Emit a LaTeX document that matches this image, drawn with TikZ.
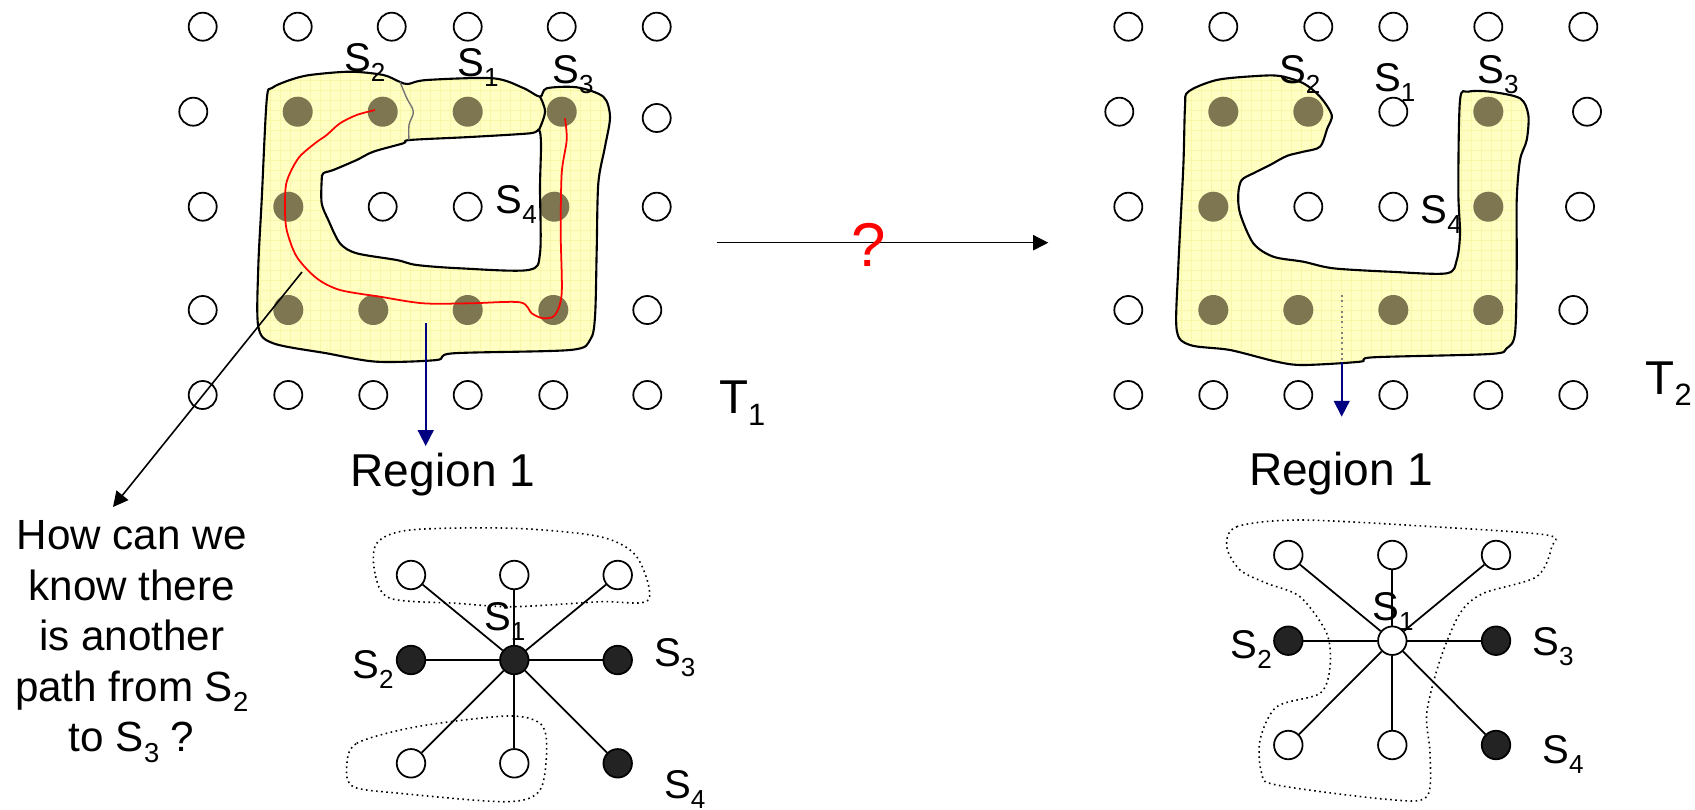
\documentclass[tikz,border=0pt]{standalone}
\usepackage{fontspec}
\setmainfont{Liberation Sans}
\usepackage{graphicx}
\usetikzlibrary{arrows.meta}
\definecolor{regfill}{RGB}{255,255,196}
\definecolor{reggrid}{RGB}{250,246,168}
\definecolor{dotc}{RGB}{125,118,80}
\definecolor{dotgrid}{RGB}{170,165,110}
\definecolor{starfill}{RGB}{35,35,35}
\definecolor{navyc}{RGB}{0,0,128}
\newcommand\sbs[1]{\raisebox{-0.25em}{\scalebox{0.65}{#1}}}
\newcommand\fS{\fontsize{11.4pt}{13pt}\selectfont}
\newcommand\fT{\fontsize{13.5pt}{16pt}\selectfont}
\newcommand\fR{\fontsize{13.1pt}{16pt}\selectfont}
\newcommand\fQ{\fontsize{12pt}{14.35pt}\selectfont}
\newcommand\fQm{\fontsize{17.6pt}{20pt}\selectfont}
\newcommand\LeftOuter{plot[smooth cycle, tension=0.5] coordinates {(266.7,100) (272,88) (290,80) (310,75) (350,71.7) (383.3,75) (400,82) (408,84) (426.7,80) (493.3,78.3) (523.3,88) (540,96.7) (546.7,88.3) (576.7,87.3) (603.3,96.7) (610,116.7) (605,146.7) (598.3,183.3) (596.7,250) (595,316.7) (590,340) (570,350) (453.3,353.3) (436.7,360) (376.7,361.7) (326.7,353.3) (273.3,343.3) (258.3,326.7) (258.3,266.7) (261.7,200)}}
\newcommand\LeftInner{plot[smooth cycle, tension=0.5] coordinates {(323.3,173.3) (333.3,170) (356.7,160) (373.3,151.7) (403.3,143.3) (410,140) (470,137) (530,133.3) (539,130) (541,145) (540,186.7) (540,253.3) (528.3,270) (460,268.3) (416.7,265) (396.7,260) (356.7,253.3) (340,243.3) (328.3,220) (321.7,203.3) (321.7,180)}}
\newcommand\RightOuter{plot[smooth cycle, tension=0.5] coordinates {(1185,106.7) (1188.3,91.7) (1216.7,80) (1256.7,76) (1280,76) (1303.3,83.3) (1320,96.7) (1331.7,115) (1327.3,128.3) (1320,146.7) (1303.3,151.7) (1286.7,156) (1270,165) (1253.3,173.3) (1241.7,180) (1238.3,193.3) (1240,213.3) (1253.3,243.3) (1273.3,256.7) (1303.3,261.7) (1333.3,268.3) (1390,271.7) (1446.7,273.3) (1456.7,260) (1460,233.3) (1458.3,190) (1460,100) (1468.3,91.7) (1490,91.7) (1520,98.3) (1528.3,115) (1526.7,140) (1520,160) (1516.7,200) (1516.7,266.7) (1515,333.3) (1506.7,348.3) (1490,354) (1373.3,357.3) (1360,361.7) (1303.3,365) (1276.7,361.7) (1230,350) (1190,345) (1176.7,330) (1178.3,266.7) (1183.3,166.7)}}
\tikzset{
  opn/.style={circle, draw, fill=white, line width=0.5pt, minimum size=0.28cm, inner sep=0pt},
  fld/.style={circle, fill=dotc, minimum size=0.30cm, inner sep=0pt},
  stopn/.style={circle, draw, fill=white, line width=0.5pt, minimum size=0.285cm, inner sep=0pt},
  stfld/.style={circle, draw, fill=starfill, line width=0.5pt, minimum size=0.285cm, inner sep=0pt},
  lbl/.style={anchor=base west, inner sep=0pt, font=\fS},
  tlbl/.style={anchor=base west, inner sep=0pt, font=\fT},
  rlbl/.style={anchor=base west, inner sep=0pt, font=\fR},
  arr/.style={-{Triangle[length=4.3pt,width=4.3pt]}, line width=0.45pt},
  barr/.style={-{Triangle[length=4.5pt,width=4.5pt]}, line width=0.5pt, navyc},
  blob/.style={densely dotted, line width=0.45pt},
  outl/.style={line width=0.6pt},
  sedge/.style={line width=0.5pt},
  redp/.style={red, line width=0.5pt}
}
\begin{document}
\begin{tikzpicture}[x=0.01cm,y=-0.01cm]
\useasboundingbox (0,0) rectangle (1695,809);
% ---------- regions fill ----------
\fill[regfill, even odd rule] \LeftOuter \LeftInner;
\fill[regfill] \RightOuter;
% ---------- grid texture ----------
\begin{scope}[even odd rule]
  \clip \LeftOuter \LeftInner;
  \draw[reggrid, line width=0.12pt, step=0.1cm] (240,60) grid (620,370);
\end{scope}
\begin{scope}
  \clip \RightOuter;
  \draw[reggrid, line width=0.12pt, step=0.1cm] (1160,60) grid (1540,370);
\end{scope}
% ---------- filled dots ----------
\foreach \x/\y/\n in {297.7/111.7/L11, 382.7/111.7/L12, 467.7/111.7/L13, 561.7/111.7/L14,
  288.3/206.7/L21, 554.3/206.7/L24,
  288.3/310/L31, 373.3/310/L32, 467.7/310/L33, 553.3/310/L34,
  1223.3/111.7/R11, 1308.3/111.7/R12, 1488.3/111.7/R14,
  1213.3/206.7/R21, 1488.3/206.7/R24,
  1213.3/310/R31, 1298.3/310/R32, 1393.3/310/R33, 1488.3/310/R34}
  \node[fld] (\n) at (\x,\y) {};
% ---------- outlines ----------
\draw[outl, even odd rule] \LeftOuter \LeftInner;
\draw[outl] \RightOuter;
\draw[line width=0.4pt, black!55] plot[smooth, tension=0.6] coordinates {(400,82) (406.7,98) (413.3,111.7) (409,125) (409,140)};
\draw[outl] plot[smooth, tension=0.6] coordinates {(540,96.7) (545,111.7) (539,130)};
% ---------- open circles ----------
\foreach \x/\y/\n in {202.7/26.7/L00, 297.7/26.7/L01, 391.7/26.7/L02, 467.7/26.7/L03, 561.7/26.7/L04, 656.7/26.7/L05,
  193.3/111.7/L10, 656.7/118/L15,
  202.7/206.7/L20, 382.7/206.7/L22, 467.7/206.7/L23, 656.7/206.7/L25,
  202.7/310/L30, 647.3/310/L35,
  202.7/395/L40, 288.3/395/L41, 373.3/395/L42, 467.7/395/L43, 553.3/395/L44, 647.3/395/L45,
  1128.3/26.7/R00, 1223.3/26.7/R01, 1318.3/26.7/R02, 1393.3/26.7/R03, 1488.3/26.7/R04, 1583.3/26.7/R05,
  1119.3/111.7/R10, 1393.3/111.7/R13, 1587/111.7/R15,
  1128.3/206.7/R20, 1308.3/206.7/R22, 1393.3/206.7/R23, 1580/206.7/R25,
  1128.3/310/R30, 1573.3/310/R35,
  1128.3/395/R40, 1213.3/395/R41, 1298.3/395/R42, 1393.3/395/R43, 1488.3/395/R44, 1573.3/395/R45}
  \node[opn] (\n) at (\x,\y) {};
% ---------- red path ----------
\draw[redp] plot[smooth, tension=0.5] coordinates {(375,110) (356.7,115) (340,123.3) (326.7,135) (315,143.3) (298.3,158.3) (286.7,181.7) (285,206.7) (286.7,230) (296.7,256.7) (316.7,278.3) (340,290) (380,296.7) (423.3,303.3) (470,303.3) (520,302.3) (531.7,313.3) (543.3,318.3) (555,315) (561.7,293.3) (560.7,233.3) (561.7,173.3) (566.7,140) (565,118.3)};
% ---------- grid labels ----------
\node[lbl] (tS2) at (343.3,71.7) {S\sbs{2}};
\node[lbl] (tS1) at (456.7,76) {S\sbs{1}};
\node[lbl] (tS3) at (551.7,83.3) {S\sbs{3}};
\node[lbl] (tS4) at (495,213.3) {S\sbs{4}};
\node[lbl] (uS2) at (1278.3,83.3) {S\sbs{2}};
\node[lbl] (uS1) at (1373.3,91.7) {S\sbs{1}};
\node[lbl] (uS3) at (1476.7,83.3) {S\sbs{3}};
\node[lbl] (uS4) at (1420,223.3) {S\sbs{4}};
\node[tlbl] (T1) at (718.3,413.3) {T\sbs{1}};
\node[tlbl] (T2) at (1645,394) {T\sbs{2}};
% ---------- middle arrow ----------
\coordinate (qs) at (716.7,242.7);
\coordinate (qe) at (1048.3,242.7);
\draw[arr] (qs) -- (qe);
\node[red, font=\fQm, inner sep=0pt] (qm) at (869,244.5) {?};
% ---------- region labels and blue arrows ----------
\node[rlbl] (reg1) at (350,486.7) {Region 1};
\node[rlbl] (reg2) at (1248.3,485) {Region 1};
\coordinate (b1s) at (425.7,323);
\coordinate (b1e) at (425.7,446);
\draw[barr] (b1s) -- (b1e);
\coordinate (b2s) at (1341.7,295);
\coordinate (b2m) at (1341.7,362);
\coordinate (b2e) at (1341.7,416.7);
\draw[gray, densely dotted, line width=0.5pt] (b2s) -- (b2m);
\draw[barr] (b2m) -- (b2e);
% ---------- question ----------
\coordinate (ds) at (302,272);
\coordinate (de) at (113,507);
\draw[arr] (ds) -- (de);
\node[font=\fQ, align=center, anchor=north, inner sep=0pt] (quest) at (131.7,520) {How can we\\know there\\is another\\path from S\sbs{2}\\to S\sbs{3} ?};
% ---------- left star ----------
\draw[blob] plot[smooth cycle, tension=0.5] coordinates {(390,598.3) (375,573.3) (376.7,543.3) (410,530) (513.3,528.3) (600,536.7) (636.7,556.7) (648.3,600) (600,601.7) (513.3,606.7) (456.7,603.3)};
\draw[blob] plot[smooth cycle, tension=0.5] coordinates {(346.7,766.7) (356.7,743.3) (416.7,726.7) (506.7,716) (540,723.3) (546.7,746.7) (540,790) (506.7,801.7) (400,793.3) (353.3,786.7)};
\node[stopn] (A-tl) at (411,575) {};
\node[stopn] (A-tm) at (514.3,575) {};
\node[stopn] (A-tr) at (617.7,575) {};
\node[stfld] (A-l) at (411,660) {};
\node[stfld] (A-c) at (514.3,660) {};
\node[stfld] (A-r) at (617.7,660) {};
\node[stopn] (A-bl) at (411,763.3) {};
\node[stopn] (A-bm) at (514.3,763.3) {};
\node[stfld] (A-br) at (617.7,763.3) {};
\foreach \n in {tl,tm,tr,l,r,bl,bm,br} \draw[sedge] (A-c) -- (A-\n);
\node[lbl] (aS1) at (483.3,630) {S\sbs{1}};
\node[lbl] (aS2) at (351.7,678.3) {S\sbs{2}};
\node[lbl] (aS3) at (653.3,666.7) {S\sbs{3}};
\node[lbl] (aS4) at (663.3,798.3) {S\sbs{4}};
% ---------- right star ----------
\draw[blob] plot[smooth cycle, tension=0.5] coordinates {(1226.7,546.7) (1236.7,526.7) (1300,520) (1433.3,526.7) (1546.7,535) (1551.7,546.7) (1536.7,576.7) (1483.3,593.3) (1460,613.3) (1440,660) (1426.7,713.3) (1430,753.3) (1426.7,796.7) (1386.7,799.3) (1276.7,785) (1261.7,773.3) (1260,740) (1276.7,706.7) (1320,693.3) (1330,666.7) (1326.7,633.3) (1300,596.7) (1266.7,583.3) (1240,570)};
\node[stopn] (B-tl) at (1288.3,555) {};
\node[stopn] (B-tm) at (1392.3,555) {};
\node[stopn] (B-tr) at (1496,555) {};
\node[stfld] (B-l) at (1288.3,640.7) {};
\node[stopn] (B-c) at (1392.3,640.7) {};
\node[stfld] (B-r) at (1496,640.7) {};
\node[stopn] (B-bl) at (1288.3,745) {};
\node[stopn] (B-bm) at (1392.3,745) {};
\node[stfld] (B-br) at (1496,745) {};
\foreach \n in {tl,tm,tr,l,r,bl,bm,br} \draw[sedge] (B-c) -- (B-\n);
\node[lbl] (bS1) at (1371.7,620) {S\sbs{1}};
\node[lbl] (bS2) at (1230,658.3) {S\sbs{2}};
\node[lbl] (bS3) at (1531.7,655) {S\sbs{3}};
\node[lbl] (bS4) at (1541.7,763.3) {S\sbs{4}};
\end{tikzpicture}
\end{document}
